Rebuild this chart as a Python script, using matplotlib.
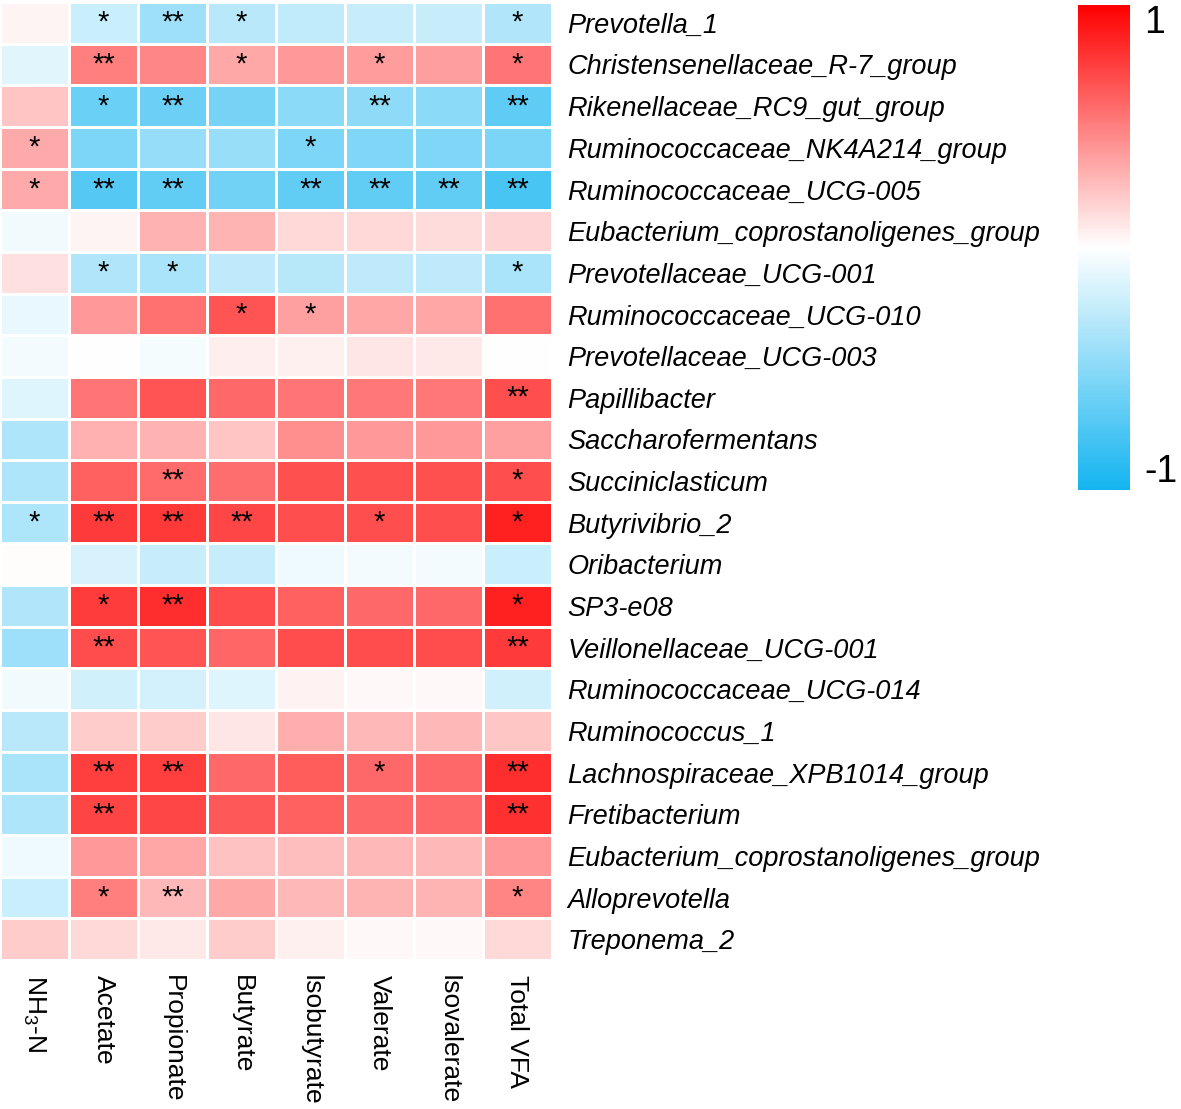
import numpy as np
import matplotlib
matplotlib.use("Agg")
import matplotlib.pyplot as plt
from matplotlib.colors import LinearSegmentedColormap

plt.rcParams['font.family'] = ['Liberation Sans', 'DejaVu Sans']
plt.rcParams['mathtext.fontset'] = 'custom'
plt.rcParams['mathtext.rm'] = 'Liberation Sans'

# data
genera = ["Prevotella_1", "Christensenellaceae_R-7_group", "Rikenellaceae_RC9_gut_group",
          "Ruminococcaceae_NK4A214_group", "Ruminococcaceae_UCG-005",
          "Eubacterium_coprostanoligenes_group", "Prevotellaceae_UCG-001",
          "Ruminococcaceae_UCG-010", "Prevotellaceae_UCG-003", "Papillibacter",
          "Saccharofermentans", "Succiniclasticum", "Butyrivibrio_2", "Oribacterium",
          "SP3-e08", "Veillonellaceae_UCG-001", "Ruminococcaceae_UCG-014",
          "Ruminococcus_1", "Lachnospiraceae_XPB1014_group", "Fretibacterium",
          "Eubacterium_coprostanoligenes_group", "Alloprevotella", "Treponema_2"]
variables = ["NH$_3$-N", "Acetate", "Propionate", "Butyrate", "Isobutyrate",
             "Valerate", "Isovalerate", "Total VFA"]

corr = np.array([
    [0.04, -0.23, -0.41, -0.30, -0.27, -0.24, -0.24, -0.33],
    [-0.13, 0.50, 0.47, 0.34, 0.40, 0.39, 0.38, 0.54],
    [0.23, -0.63, -0.62, -0.58, -0.50, -0.48, -0.50, -0.68],
    [0.33, -0.55, -0.45, -0.43, -0.55, -0.54, -0.54, -0.56],
    [0.33, -0.72, -0.67, -0.60, -0.67, -0.67, -0.67, -0.77],
    [-0.06, 0.04, 0.30, 0.29, 0.15, 0.15, 0.14, 0.17],
    [0.12, -0.33, -0.36, -0.28, -0.31, -0.28, -0.28, -0.36],
    [-0.10, 0.40, 0.56, 0.67, 0.37, 0.35, 0.35, 0.56],
    [-0.05, 0.00, -0.04, 0.07, 0.06, 0.10, 0.09, 0.00],
    [-0.14, 0.54, 0.67, 0.59, 0.54, 0.53, 0.53, 0.69],
    [-0.34, 0.31, 0.30, 0.23, 0.44, 0.40, 0.40, 0.37],
    [-0.34, 0.62, 0.58, 0.57, 0.68, 0.68, 0.68, 0.69],
    [-0.35, 0.77, 0.78, 0.72, 0.69, 0.69, 0.69, 0.87],
    [0.01, -0.17, -0.24, -0.24, -0.07, -0.05, -0.05, -0.23],
    [-0.33, 0.76, 0.82, 0.70, 0.62, 0.59, 0.59, 0.87],
    [-0.41, 0.70, 0.67, 0.60, 0.70, 0.70, 0.70, 0.77],
    [-0.06, -0.20, -0.19, -0.14, 0.05, 0.03, 0.03, -0.20],
    [-0.30, 0.20, 0.20, 0.10, 0.32, 0.28, 0.28, 0.22],
    [-0.36, 0.75, 0.75, 0.59, 0.64, 0.59, 0.59, 0.82],
    [-0.34, 0.73, 0.72, 0.65, 0.62, 0.59, 0.59, 0.81],
    [-0.07, 0.40, 0.35, 0.24, 0.25, 0.28, 0.28, 0.40],
    [-0.23, 0.50, 0.28, 0.34, 0.28, 0.29, 0.29, 0.48],
    [0.20, 0.15, 0.09, 0.20, 0.06, 0.03, 0.03, 0.15],
])

stars = [
    ["", "*", "**", "*", "", "", "", "*"],
    ["", "**", "", "*", "", "*", "", "*"],
    ["", "*", "**", "", "", "**", "", "**"],
    ["*", "", "", "", "*", "", "", ""],
    ["*", "**", "**", "", "**", "**", "**", "**"],
    ["", "", "", "", "", "", "", ""],
    ["", "*", "*", "", "", "", "", "*"],
    ["", "", "", "*", "*", "", "", ""],
    ["", "", "", "", "", "", "", ""],
    ["", "", "", "", "", "", "", "**"],
    ["", "", "", "", "", "", "", ""],
    ["", "", "**", "", "", "", "", "*"],
    ["*", "**", "**", "**", "", "*", "", "*"],
    ["", "", "", "", "", "", "", ""],
    ["", "*", "**", "", "", "", "", "*"],
    ["", "**", "", "", "", "", "", "**"],
    ["", "", "", "", "", "", "", ""],
    ["", "", "", "", "", "", "", ""],
    ["", "**", "**", "", "", "*", "", "**"],
    ["", "**", "", "", "", "", "", "**"],
    ["", "", "", "", "", "", "", ""],
    ["", "*", "**", "", "", "", "", "*"],
    ["", "", "", "", "", "", "", ""],
]

cmap = LinearSegmentedColormap.from_list("bwr2", ["#14B4F0", "#FFFFFF", "#FF0000"])

W, H = 1181, 1109
fig = plt.figure(figsize=(W / 100, H / 100), dpi=100)
ax = fig.add_axes([0.0, 1 - 960 / H, 552 / W, 958 / H])

nrow, ncol = corr.shape
mesh = ax.pcolormesh(np.arange(ncol + 1), np.arange(nrow + 1), corr, cmap=cmap,
                     vmin=-1, vmax=1, edgecolors="white", linewidth=1.0)
ax.set_xlim(0, ncol)
ax.set_ylim(nrow, 0)

for i in range(nrow):
    for j in range(ncol):
        if stars[i][j]:
            ax.text(j + 0.5, i + 0.5, stars[i][j], ha="center", va="center",
                    fontsize=21, color="black")

ax.yaxis.tick_right()
ax.set_yticks(np.arange(nrow) + 0.5)
ax.set_yticklabels(genera, fontsize=19.5, style="italic")
ax.set_xticks(np.arange(ncol) + 0.5)
ax.set_xticklabels(variables, fontsize=19, rotation=270, ha="center", va="top")
ax.tick_params(axis="both", length=0)
ax.tick_params(axis="y", pad=11)
ax.tick_params(axis="x", pad=11)
for s in ax.spines.values():
    s.set_visible(False)

cax = fig.add_axes([1078 / W, 1 - 490 / H, 52 / W, 485 / H])
cb = fig.colorbar(mesh, cax=cax, ticks=[-1, 1])
cb.outline.set_visible(False)
cb.ax.tick_params(length=0, labelsize=27, pad=10)
cb.ax.set_yticklabels(["-1", "1"])
cb.ax.get_yticklabels()[0].set_va("bottom")
cb.ax.get_yticklabels()[1].set_va("top")

fig.savefig("out.png", dpi=100)
